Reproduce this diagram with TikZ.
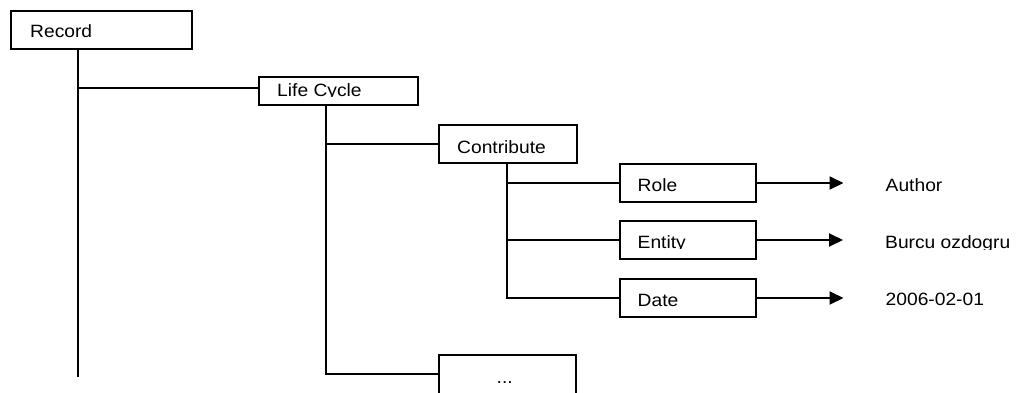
\documentclass[tikz,border=0pt]{standalone}
\usepackage{fontspec}
\setmainfont{Liberation Sans}[FakeStretch=1.08]
\usetikzlibrary{arrows.meta}
\begin{document}
\begin{tikzpicture}[x=1pt,y=-1pt,
  box/.style={draw, line width=2pt, inner sep=0pt, anchor=north west},
  lbl/.style={inner sep=0pt, anchor=base west, font=\fontsize{17.8}{20}\selectfont},
  link/.style={line width=2pt},
  arr/.style={line width=2pt, -{Triangle[length=14pt,width=13pt]}, shorten >=42pt}]
\useasboundingbox (0,0) rectangle (1021,392);
\clip (0,0) rectangle (1021,392);

% boxes of the tree
\node[box, minimum width=181pt, minimum height=38pt] (rec) at (10,10) {};
\node[box, minimum width=159pt, minimum height=28pt] (lc) at (258,76) {};
\node[box, minimum width=138pt, minimum height=38pt] (con) at (438,124) {};
\node[box, minimum width=136pt, minimum height=38pt] (role) at (619,163) {};
\node[box, minimum width=136pt, minimum height=38pt] (ent) at (619,220) {};
\node[box, minimum width=136pt, minimum height=38pt] (date) at (619,278) {};
\node[box, minimum width=137pt, minimum height=40pt] (dots) at (438,354) {};

% box captions (some are cut at the baseline by their frame)
\node[lbl] (recT) at (30,37.3) {Record};
\begin{scope}
  \clip (270,80) rectangle (410,96.5);
  \node[lbl] (lcT) at (277,96) {Life Cycle};
\end{scope}
\node[lbl] (conT) at (457,153) {Contribute};
\node[lbl] (roleT) at (637.5,191.7) {Role};
\begin{scope}
  \clip (630,225) rectangle (750,248.8);
  \node[lbl] (entT) at (637.5,248.3) {Entity};
\end{scope}
\node[lbl] (dateT) at (637.5,306.7) {Date};
\node[lbl] (dotsT) at (496.5,383.5) {...};

% values
\node[lbl] (auth) at (885.5,191.7) {Author};
\begin{scope}
  \clip (880,225) rectangle (1021,249.3);
  \node[lbl] (burcu) at (885,248.3) {Burcu ozdogru};
\end{scope}
\node[lbl] (dval) at (885.5,305.5) {2006-02-01};

% tree connectors
\coordinate (recEnd) at (78,377);
\draw[link] ([xshift=68pt]rec.south west) -- (recEnd);
\draw[link] ([xshift=68pt]rec.south west) |- ([yshift=3pt]lc.west);
\draw[link] ([xshift=68pt]lc.south west) |- ([yshift=1pt]dots.west);
\draw[link] ([xshift=68pt]lc.south west) |- (con.west);
\draw[link] ([xshift=69pt]con.south west) |- (role.west);
\draw[link] ([xshift=69pt]con.south west) |- (ent.west);
\draw[link] ([xshift=69pt]con.south west) |- (date.west);

% value arrows
\draw[arr] (role.east) -- (role.east -| auth.west);
\draw[arr] (ent.east) -- (ent.east -| burcu.west);
\draw[arr] (date.east) -- (date.east -| dval.west);
\end{tikzpicture}
\end{document}
